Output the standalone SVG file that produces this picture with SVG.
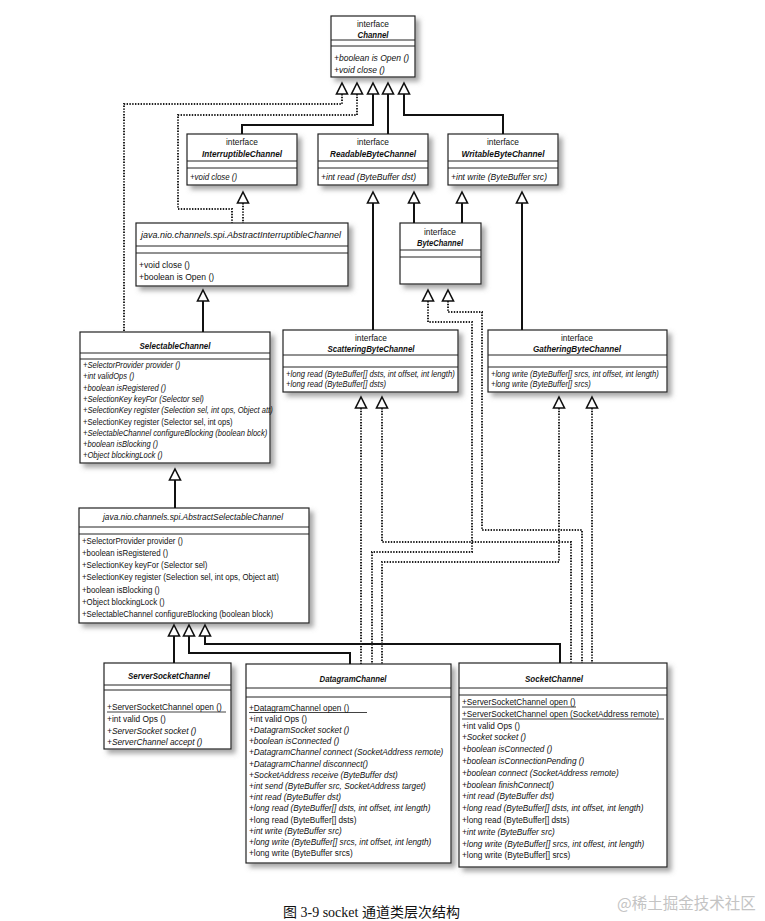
<svg xmlns="http://www.w3.org/2000/svg" xmlns:xlink="http://www.w3.org/1999/xlink" width="765" height="921" viewBox="0 0 765 921">
<style>
.bx{fill:#fff;stroke:#222;stroke-width:1.2;filter:url(#sh)}
.dv{stroke:#222;stroke-width:1}
.m{font-family:"Liberation Sans",Arial,sans-serif;font-size:9.5px;fill:#111}
.i{font-style:italic}
.h{font-family:"Liberation Sans",Arial,sans-serif;font-size:9.5px;fill:#111;text-anchor:middle}
.n{font-weight:bold;font-style:italic}
.s{fill:none;stroke:#111;stroke-width:2}
.d{fill:none;stroke:#222;stroke-width:2;stroke-dasharray:1.4 1.4}
.u{stroke:#111;stroke-width:0.8}
</style>
<defs>
<filter id="sh" x="-10%" y="-10%" width="130%" height="130%">
<feDropShadow dx="4" dy="4" stdDeviation="2.4" flood-color="#777" flood-opacity="0.65"/>
</filter>
<path id="a" d="M0,0 L5.5,11 L-5.5,11 Z" fill="#fff" stroke="#111" stroke-width="1.6" stroke-linejoin="miter"/>
</defs>
<rect width="765" height="921" fill="#fff"/>

<g id="Channel">
<rect class="bx" x="331" y="16" width="84" height="61"/>
<line class="dv" x1="331" y1="40" x2="415" y2="40"/><line class="dv" x1="331" y1="46" x2="415" y2="46"/>
<text class="h" x="373" y="27" textLength="32" lengthAdjust="spacingAndGlyphs">interface</text>
<text class="h n" x="373" y="38" textLength="31" lengthAdjust="spacingAndGlyphs">Channel</text>
<text class="m i" transform="translate(334 61) scale(.9 1)">+boolean is Open ()</text>
<text class="m i" transform="translate(334 73) scale(.9 1)">+void close ()</text>
</g>

<g id="InterruptibleChannel">
<rect class="bx" x="187" y="134" width="110" height="51"/>
<line class="dv" x1="187" y1="161" x2="297" y2="161"/><line class="dv" x1="187" y1="168" x2="297" y2="168"/>
<text class="h" x="242" y="145" textLength="32" lengthAdjust="spacingAndGlyphs">interface</text>
<text class="h n" x="242" y="157" textLength="80" lengthAdjust="spacingAndGlyphs">InterruptibleChannel</text>
<text class="m i" transform="translate(190 180) scale(.83 1)">+void close ()</text>
</g>

<g id="ReadableByteChannel">
<rect class="bx" x="318" y="134" width="110" height="51"/>
<line class="dv" x1="318" y1="161" x2="428" y2="161"/><line class="dv" x1="318" y1="168" x2="428" y2="168"/>
<text class="h" x="373" y="145" textLength="32" lengthAdjust="spacingAndGlyphs">interface</text>
<text class="h n" x="373" y="157" textLength="86" lengthAdjust="spacingAndGlyphs">ReadableByteChannel</text>
<text class="m i" transform="translate(321 180) scale(.9 1)">+int read (ByteBuffer dst)</text>
</g>

<g id="WritableByteChannel">
<rect class="bx" x="448" y="134" width="110" height="51"/>
<line class="dv" x1="448" y1="161" x2="558" y2="161"/><line class="dv" x1="448" y1="168" x2="558" y2="168"/>
<text class="h" x="503" y="145" textLength="32" lengthAdjust="spacingAndGlyphs">interface</text>
<text class="h n" x="503" y="157" textLength="83" lengthAdjust="spacingAndGlyphs">WritableByteChannel</text>
<text class="m i" transform="translate(451 180) scale(.9 1)">+int write (ByteBuffer src)</text>
</g>

<g id="AbstractInterruptibleChannel">
<rect class="bx" x="136" y="223" width="212" height="63"/>
<line class="dv" x1="136" y1="246" x2="348" y2="246"/><line class="dv" x1="136" y1="253" x2="348" y2="253"/>
<text class="h i" x="241" y="238" textLength="200" lengthAdjust="spacingAndGlyphs">java.nio.channels.spi.AbstractInterruptibleChannel</text>
<text class="m" transform="translate(139 268) scale(.9 1)">+void close ()</text>
<text class="m" transform="translate(139 280) scale(.9 1)">+boolean is Open ()</text>
</g>

<g id="ByteChannel">
<rect class="bx" x="400" y="223" width="81" height="61"/>
<line class="dv" x1="400" y1="250" x2="481" y2="250"/><line class="dv" x1="400" y1="257" x2="481" y2="257"/>
<text class="h" x="440" y="235" textLength="32" lengthAdjust="spacingAndGlyphs">interface</text>
<text class="h n" x="440" y="246" textLength="46" lengthAdjust="spacingAndGlyphs">ByteChannel</text>
</g>

<g id="SelectableChannel">
<rect class="bx" x="80" y="332" width="190" height="131"/>
<line class="dv" x1="80" y1="353" x2="270" y2="353"/><line class="dv" x1="80" y1="359" x2="270" y2="359"/>
<text class="h n" x="175" y="349" textLength="71" lengthAdjust="spacingAndGlyphs">SelectableChannel</text>
<text class="m i" transform="translate(83 368) scale(.8 1)">+SelectorProvider provider ()</text>
<text class="m i" transform="translate(83 379.3) scale(.8 1)">+int validOps ()</text>
<text class="m i" transform="translate(83 390.6) scale(.8 1)">+boolean isRegistered ()</text>
<text class="m i" transform="translate(83 401.9) scale(.8 1)">+SelectionKey keyFor (Selector sel)</text>
<text class="m i" transform="translate(83 413.2) scale(.8 1)">+SelectionKey register (Selection sel, int ops, Object att)</text>
<text class="m" transform="translate(83 424.5) scale(.8 1)">+SelectionKey register (Selector sel, int ops)</text>
<text class="m i" transform="translate(83 435.8) scale(.8 1)">+SelectableChannel configureBlocking (boolean block)</text>
<text class="m i" transform="translate(83 447.1) scale(.8 1)">+boolean isBlocking ()</text>
<text class="m i" transform="translate(83 458.4) scale(.8 1)">+Object blockingLock ()</text>
</g>

<g id="ScatteringByteChannel">
<rect class="bx" x="283" y="330" width="175" height="62"/>
<line class="dv" x1="283" y1="355" x2="458" y2="355"/><line class="dv" x1="283" y1="367" x2="458" y2="367"/>
<text class="h" x="371" y="341" textLength="32" lengthAdjust="spacingAndGlyphs">interface</text>
<text class="h n" x="371" y="352" textLength="87" lengthAdjust="spacingAndGlyphs">ScatteringByteChannel</text>
<text class="m i" transform="translate(286 376.5) scale(.81 1)">+long read (ByteBuffer[] dsts, int offset, int length)</text>
<text class="m i" transform="translate(286 387) scale(.81 1)">+long read (ByteBuffer[] dsts)</text>
</g>

<g id="GatheringByteChannel">
<rect class="bx" x="488" y="330" width="179" height="62"/>
<line class="dv" x1="488" y1="355" x2="667" y2="355"/><line class="dv" x1="488" y1="367" x2="667" y2="367"/>
<text class="h" x="577" y="341" textLength="32" lengthAdjust="spacingAndGlyphs">interface</text>
<text class="h n" x="577" y="352" textLength="88" lengthAdjust="spacingAndGlyphs">GatheringByteChannel</text>
<text class="m i" transform="translate(491 376.5) scale(.8 1)">+long write (ByteBuffer[] srcs, int offset, int length)</text>
<text class="m i" transform="translate(491 387) scale(.8 1)">+long write (ByteBuffer[] srcs)</text>
</g>

<g id="AbstractSelectableChannel">
<rect class="bx" x="79" y="508" width="230" height="115"/>
<line class="dv" x1="79" y1="527" x2="309" y2="527"/><line class="dv" x1="79" y1="534" x2="309" y2="534"/>
<text class="h i" x="193" y="520" textLength="180" lengthAdjust="spacingAndGlyphs">java.nio.channels.spi.AbstractSelectableChannel</text>
<text class="m" transform="translate(82 543.5) scale(.83 1)">+SelectorProvider provider ()</text>
<text class="m" transform="translate(82 555.8) scale(.83 1)">+boolean isRegistered ()</text>
<text class="m" transform="translate(82 568.1) scale(.83 1)">+SelectionKey keyFor (Selector sel)</text>
<text class="m" transform="translate(82 580.4) scale(.83 1)">+SelectionKey register (Selection sel, int ops, Object att)</text>
<text class="m" transform="translate(82 592.7) scale(.83 1)">+boolean isBlocking ()</text>
<text class="m" transform="translate(82 605) scale(.83 1)">+Object blockingLock ()</text>
<text class="m" transform="translate(82 617.3) scale(.83 1)">+SelectableChannel configureBlocking (boolean block)</text>
</g>

<g id="ServerSocketChannel">
<rect class="bx" x="104" y="663" width="127" height="86"/>
<line class="dv" x1="104" y1="685" x2="231" y2="685"/><line class="dv" x1="104" y1="690" x2="231" y2="690"/>
<text class="h n" x="169" y="679" textLength="82" lengthAdjust="spacingAndGlyphs">ServerSocketChannel</text>
<text class="m" transform="translate(107 710) scale(.88 1)">+ServerSocketChannel open ()</text>
<line class="u" x1="107" y1="712" x2="226" y2="712"/>
<text class="m" transform="translate(107 722) scale(.88 1)">+int valid Ops ()</text>
<text class="m i" transform="translate(107 733.5) scale(.88 1)">+ServerSocket socket ()</text>
<text class="m i" transform="translate(107 745) scale(.88 1)">+ServerChannel accept ()</text>
</g>

<g id="DatagramChannel">
<rect class="bx" x="246" y="664" width="205" height="199"/>
<line class="dv" x1="246" y1="688" x2="451" y2="688"/><line class="dv" x1="246" y1="697" x2="451" y2="697"/>
<text class="h n" x="353" y="682" textLength="67" lengthAdjust="spacingAndGlyphs">DatagramChannel</text>
<text class="m" transform="translate(249 710.5) scale(.87 1)">+DatagramChannel open ()</text>
<line class="u" x1="249" y1="712.5" x2="367" y2="712.5"/>
<text class="m" transform="translate(249 721.7) scale(.87 1)">+int valid Ops ()</text>
<text class="m i" transform="translate(249 732.9) scale(.87 1)">+DatagramSocket socket ()</text>
<text class="m i" transform="translate(249 744.1) scale(.87 1)">+boolean isConnected ()</text>
<text class="m i" transform="translate(249 755.3) scale(.87 1)">+DatagramChannel connect (SocketAddress remote)</text>
<text class="m i" transform="translate(249 766.5) scale(.87 1)">+DatagramChannel disconnect()</text>
<text class="m i" transform="translate(249 777.7) scale(.87 1)">+SocketAddress receive (ByteBuffer dst)</text>
<text class="m i" transform="translate(249 788.9) scale(.87 1)">+int send (ByteBuffer src, SocketAddress target)</text>
<text class="m i" transform="translate(249 800.1) scale(.87 1)">+int read (ByteBuffer dst)</text>
<text class="m i" transform="translate(249 811.3) scale(.87 1)">+long read (ByteBuffer[] dsts, int offset, int length)</text>
<text class="m" transform="translate(249 822.5) scale(.87 1)">+long read (ByteBuffer[] dsts)</text>
<text class="m i" transform="translate(249 833.7) scale(.87 1)">+int write (ByteBuffer src)</text>
<text class="m i" transform="translate(249 844.9) scale(.87 1)">+long write (ByteBuffer[] srcs, int offset, int length)</text>
<text class="m" transform="translate(249 856.1) scale(.87 1)">+long write (ByteBuffer srcs)</text>
</g>

<g id="SocketChannel">
<rect class="bx" x="459" y="663" width="208" height="204"/>
<line class="dv" x1="459" y1="688" x2="667" y2="688"/><line class="dv" x1="459" y1="695" x2="667" y2="695"/>
<text class="h n" x="554" y="682" textLength="58" lengthAdjust="spacingAndGlyphs">SocketChannel</text>
<text class="m" transform="translate(462 705) scale(.87 1)">+ServerSocketChannel open ()</text>
<line class="u" x1="462" y1="707" x2="576" y2="707"/>
<text class="m" transform="translate(462 716.8) scale(.87 1)">+ServerSocketChannel open (SocketAddress remote)</text>
<line class="u" x1="462" y1="719" x2="664" y2="719"/>
<text class="m" transform="translate(462 728.6) scale(.87 1)">+int valid Ops ()</text>
<text class="m i" transform="translate(462 740.4) scale(.87 1)">+Socket socket ()</text>
<text class="m i" transform="translate(462 752.2) scale(.87 1)">+boolean isConnected ()</text>
<text class="m i" transform="translate(462 764) scale(.87 1)">+boolean isConnectionPending ()</text>
<text class="m i" transform="translate(462 775.8) scale(.87 1)">+boolean connect (SocketAddress remote)</text>
<text class="m i" transform="translate(462 787.6) scale(.87 1)">+boolean finishConnect()</text>
<text class="m i" transform="translate(462 799.4) scale(.87 1)">+int read (ByteBuffer dst)</text>
<text class="m i" transform="translate(462 811.2) scale(.87 1)">+long read (ByteBuffer[] dsts, int offset, int length)</text>
<text class="m" transform="translate(462 823) scale(.87 1)">+long read (ByteBuffer[] dsts)</text>
<text class="m i" transform="translate(462 834.8) scale(.87 1)">+int write (ByteBuffer src)</text>
<text class="m i" transform="translate(462 846.6) scale(.87 1)">+long write (ByteBuffer[] srcs, int offest, int length)</text>
<text class="m" transform="translate(462 858.4) scale(.87 1)">+long write (ByteBuffer[] srcs)</text>
</g>

<g id="connectors">
<path class="s" d="M373,94 V125 H242 V134"/>
<path class="s" d="M388,94 V134"/>
<path class="s" d="M404,94 V115 H503 V134"/>
<path class="s" d="M373,203 V330"/>
<path class="s" d="M414,203 V223"/>
<path class="s" d="M462,203 V223"/>
<path class="s" d="M522,203 V330"/>
<path class="s" d="M203,301 V332"/>
<path class="s" d="M175,480 V508"/>
<path class="s" d="M174,636 V663"/>
<path class="s" d="M189,636 V653 H350 V664"/>
<path class="s" d="M205,636 V644 H560 V663"/>
<path class="d" d="M342,94 V104 H124 V332"/>
<path class="d" d="M357,94 V115 H178 V209 H232 V223"/>
<path class="d" d="M243,203 V223"/>
<path class="d" d="M428,301 V322 H472 V552 H372 V664"/>
<path class="d" d="M448,301 V312 H482 V530 H582 V663"/>
<path class="d" d="M361,408 V664"/>
<path class="d" d="M382,408 V542 H571 V663"/>
<path class="d" d="M559,408 V562 H382 V664"/>
<path class="d" d="M592,408 V663"/>
<use xlink:href="#a" x="342" y="83"/>
<use xlink:href="#a" x="357" y="83"/>
<use xlink:href="#a" x="373" y="83"/>
<use xlink:href="#a" x="388" y="83"/>
<use xlink:href="#a" x="404" y="83"/>
<use xlink:href="#a" x="243" y="192"/>
<use xlink:href="#a" x="373" y="192"/>
<use xlink:href="#a" x="414" y="192"/>
<use xlink:href="#a" x="462" y="192"/>
<use xlink:href="#a" x="522" y="192"/>
<use xlink:href="#a" x="203" y="290"/>
<use xlink:href="#a" x="428" y="290"/>
<use xlink:href="#a" x="448" y="290"/>
<use xlink:href="#a" x="175" y="469"/>
<use xlink:href="#a" x="361" y="397"/>
<use xlink:href="#a" x="382" y="397"/>
<use xlink:href="#a" x="559" y="397"/>
<use xlink:href="#a" x="592" y="397"/>
<use xlink:href="#a" x="174" y="625"/>
<use xlink:href="#a" x="189" y="625"/>
<use xlink:href="#a" x="205" y="625"/>
</g>

<text x="283" y="917" style="font-family:'Liberation Serif','Noto Sans CJK SC',serif;font-size:14px;fill:#111">图 3-9 socket 通道类层次结构</text>
<text x="617" y="909" style="font-family:'Noto Sans CJK SC',sans-serif;font-size:15.5px;fill:#c4c4c4">@稀土掘金技术社区</text>
</svg>
